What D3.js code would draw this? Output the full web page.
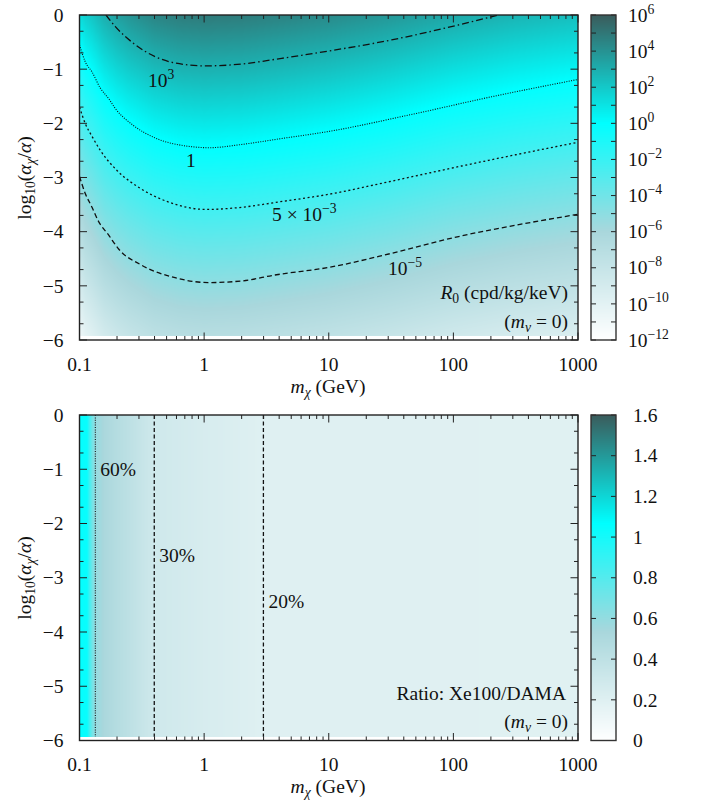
<!DOCTYPE html>
<html><head><meta charset="utf-8">
<script src="https://cdn.jsdelivr.net/npm/d3@7"></script>
<style>
body{margin:0;background:#fff}
svg{display:block}
text{font-family:"Liberation Serif","Times New Roman",serif;fill:#111}
</style></head>
<body><svg id="chart" width="705" height="800"></svg>
<script>
// ---------------- DATA ----------------
// mass nodes (GeV) of the R0 grid, and log10(alpha_chi/alpha) rows
const massNodes = [0.1,0.112,0.126,0.158,0.2,0.251,0.398,0.631,1,2,3.98,10,31.6,100,316,1000];
const alphaRows = [0,-1,-2,-3,-4,-5,-6];
// log10 R0 (cpd/kg/keV), one row per alphaRows entry, one column per massNodes entry
const logR0 = [
  [ 1.3, 1.8, 2.15, 2.96, 3.5, 3.9, 4.5, 4.78, 4.88, 4.8, 4.6, 4.3, 3.8, 3.2, 2.75, 2.4],
  [-1.0,-0.3, 0.1, 0.96, 1.5, 1.9, 2.5, 2.78, 2.88, 2.8, 2.6, 2.3, 1.8, 1.2, 0.75, 0.4],
  [-3.0,-2.3,-1.9,-1.04,-0.5,-0.1, 0.5, 0.78, 0.88, 0.8, 0.6, 0.3,-0.2,-0.8,-1.25,-1.6],
  [-5.0,-4.3,-3.9,-3.04,-2.5,-2.1,-1.5,-1.22,-1.12,-1.2,-1.4,-1.7,-2.2,-2.8,-3.25,-3.6],
  [-7.0,-6.3,-5.9,-5.04,-4.5,-4.1,-3.5,-3.22,-3.12,-3.2,-3.4,-3.7,-4.2,-4.8,-5.25,-5.6],
  [-9.0,-8.3,-7.9,-7.04,-6.5,-6.1,-5.5,-5.22,-5.12,-5.2,-5.4,-5.7,-6.2,-6.8,-7.25,-7.6],
  [-11.0,-10.3,-9.9,-9.04,-8.5,-8.1,-7.5,-7.22,-7.12,-7.2,-7.4,-7.7,-8.2,-8.8,-9.25,-9.6]
];
// contour lines of R0: [mass GeV, log10(alpha_chi/alpha)]
const contour1e3 = [[0.163,0],[0.194,-0.215],[0.271,-0.523],[0.405,-0.77],[0.585,-0.886],[1.02,-0.94],[2.0,-0.905],[4.19,-0.80],[10,-0.665],[31.9,-0.46],[109,-0.185],[229,0]];
const contour1 = [[0.1,-0.55],[0.111,-0.86],[0.126,-1.05],[0.147,-1.35],[0.171,-1.54],[0.193,-1.72],[0.271,-2.04],[0.405,-2.27],[0.724,-2.42],[1.1,-2.45],[2,-2.39],[4.19,-2.28],[10,-2.15],[43.4,-1.85],[202,-1.51],[1000,-1.19]];
const contour5e3 = [[0.1,-1.7],[0.111,-2.0],[0.126,-2.24],[0.147,-2.5],[0.2,-2.87],[0.307,-3.2],[0.5,-3.44],[1.05,-3.59],[2,-3.55],[4,-3.45],[10,-3.31],[31.6,-3.07],[100,-2.82],[316,-2.58],[1000,-2.35]];
const contour1e5 = [[0.1,-2.98],[0.111,-3.29],[0.126,-3.55],[0.142,-3.81],[0.171,-4.06],[0.206,-4.32],[0.316,-4.62],[0.585,-4.85],[1.08,-4.94],[2,-4.91],[3.7,-4.8],[10,-4.66],[31.9,-4.4],[110,-4.09],[374,-3.85],[1000,-3.68]];
// ratio Xe100/DAMA versus mass (independent of alpha)
const ratioMass = [0.1,0.115,0.121,0.127,0.134,0.16,0.2,0.25,0.32,0.4,1,3,1000];
const ratioValue = [1.05,1.04,0.85,0.7,0.6,0.52,0.46,0.41,0.35,0.3,0.25,0.2,0.19];
const ratioContourMass = [0.134,0.398,2.99];
const ratioContourLabel = ["60%","30%","20%"];
// ticks
const xTickValues = [0.1,1,10,100,1000];
const xTickLabels = ["0.1","1","10","100","1000"];
const yTickValues = [0,-1,-2,-3,-4,-5,-6];
const yTickLabels = ["0","\u22121","\u22122","\u22123","\u22124","\u22125","\u22126"];
const cbTopExp = [6,4,2,0,-2,-4,-6,-8,-10,-12];
const cbBotValues = [0,0.2,0.4,0.6,0.8,1,1.2,1.4,1.6];
const cbBotLabels = ["0","0.2","0.4","0.6","0.8","1","1.2","1.4","1.6"];

// ---------------- SETUP ----------------
const svg = d3.select("#chart");
const FS = 19.5;
const xs = d3.scaleLog().domain([0.1,1000]).range([79.5,578]);
const yTop = d3.scaleLinear().domain([-6,0]).range([340,15]);
const yBot = d3.scaleLinear().domain([-6,0]).range([740.5,415]);
const cbTop = d3.scaleLog().domain([1e-12,1e6]).range([340,15]);
const cbBot = d3.scaleLinear().domain([0,1.6]).range([740.5,415]);
const CBX0 = 591, CBX1 = 616;
const yDataMin = -5.93;

const palette = d3.scaleLinear().domain([0,1/3,2/3,1])
  .range(["#ffffff","#a9d7dc","#00ffff","#3a5c5c"]).clamp(true);
const LUT = d3.range(1024).map(i => d3.rgb(palette(i/1023)));

const logNodes = massNodes.map(Math.log10);
function locate(nodes, v){
  let i = d3.bisectRight(nodes, v) - 1;
  i = Math.max(0, Math.min(nodes.length-2, i));
  const t = (v - nodes[i])/(nodes[i+1]-nodes[i]);
  return [i, t];
}
function fieldTop(m, a){
  const [i, tx] = locate(logNodes, Math.log10(m));
  let r = -a; let j = Math.max(0, Math.min(alphaRows.length-2, Math.floor(r)));
  const ty = r - j;
  const A = logR0[j][i]*(1-tx) + logR0[j][i+1]*tx;
  const B = logR0[j+1][i]*(1-tx) + logR0[j+1][i+1]*tx;
  return A*(1-ty) + B*ty;
}
const ratioLog = ratioMass.map(Math.log10);
function fieldBot(m){
  const [i, t] = locate(ratioLog, Math.log10(m));
  return ratioValue[i]*(1-t) + ratioValue[i+1]*t;
}

function heat(x0, y0, w, h, fracAt){
  const cv = document.createElement("canvas"); cv.width = w; cv.height = h;
  const ctx = cv.getContext("2d"); const img = ctx.createImageData(w, h);
  for (let py=0; py<h; py++) for (let px=0; px<w; px++){
    let f = fracAt(x0+px+0.5, y0+py+0.5);
    f = Math.max(0, Math.min(1, f));
    const c = LUT[Math.round(f*1023)]; const k = (py*w+px)*4;
    img.data[k]=c.r; img.data[k+1]=c.g; img.data[k+2]=c.b; img.data[k+3]=255;
  }
  ctx.putImageData(img,0,0);
  svg.append("image").attr("x",x0).attr("y",y0).attr("width",w).attr("height",h)
    .attr("preserveAspectRatio","none").attr("href", cv.toDataURL());
}

function rich(parent, x, y, segs, anchor, size){
  const t = parent.append("text").attr("x",x).attr("y",y)
    .attr("text-anchor",anchor||"start").style("font-size",(size||FS)+"px");
  const s0 = size||FS; let cur = 0;
  segs.forEach(s => {
    const off = s.sup ? -0.42*s0 : (s.sub ? 0.22*s0 : 0);
    const ts = t.append("tspan").attr("dy", off-cur).text(s.t);
    if (s.i) ts.style("font-style","italic");
    if (s.sup || s.sub) ts.style("font-size",(0.7*s0)+"px");
    cur = off;
  });
  return t;
}

function frame(ys, xLabelBaseline, titleY, yTitleCenter){
  const [xl, xr] = xs.range(); const [yb, yt] = ys.range();
  const g = svg.append("g").attr("stroke","#222").attr("stroke-width",1);
  const xMinor = [];
  [0.1,1,10,100].forEach(d => { for (let k=2;k<=9;k++) xMinor.push(d*k); });
  xTickValues.forEach(v => { const x = xs(v);
    g.append("line").attr("x1",x).attr("x2",x).attr("y1",yb).attr("y2",yb-7.5);
    g.append("line").attr("x1",x).attr("x2",x).attr("y1",yt).attr("y2",yt+7.5); });
  xMinor.forEach(v => { const x = xs(v);
    g.append("line").attr("x1",x).attr("x2",x).attr("y1",yb).attr("y2",yb-4);
    g.append("line").attr("x1",x).attr("x2",x).attr("y1",yt).attr("y2",yt+4); });
  const yMinor = [];
  for (let n=0;n<6;n++){ yMinor.push(-n-0.3); yMinor.push(-n-0.7); }
  yTickValues.forEach(v => { const y = ys(v);
    g.append("line").attr("x1",xl).attr("x2",xl+7.5).attr("y1",y).attr("y2",y);
    g.append("line").attr("x1",xr).attr("x2",xr-7.5).attr("y1",y).attr("y2",y); });
  yMinor.forEach(v => { const y = ys(v);
    g.append("line").attr("x1",xl).attr("x2",xl+4).attr("y1",y).attr("y2",y);
    g.append("line").attr("x1",xr).attr("x2",xr-4).attr("y1",y).attr("y2",y); });
  svg.append("rect").attr("x",xl).attr("y",yt).attr("width",xr-xl).attr("height",yb-yt)
    .attr("fill","none").attr("stroke","#222").attr("stroke-width",1.4);
  xTickValues.forEach((v,i) => {
    svg.append("text").attr("x",xs(v)).attr("y",xLabelBaseline).attr("text-anchor","middle")
      .style("font-size",FS+"px").text(xTickLabels[i]); });
  yTickValues.forEach((v,i) => {
    svg.append("text").attr("x",63.5).attr("y",ys(v)+6.7).attr("text-anchor","end")
      .style("font-size",FS+"px").text(yTickLabels[i]); });
  rich(svg, 328, titleY, [{t:"m",i:1},{t:"\u03c7",i:1,sub:1},{t:" (GeV)"}], "middle");
  const yt2 = svg.append("g").attr("transform",`translate(31,${yTitleCenter}) rotate(-90)`);
  rich(yt2, 0, 0, [{t:"log"},{t:"10",sub:1},{t:"("},{t:"\u03b1",i:1},{t:"\u03c7",i:1,sub:1},{t:"/"},{t:"\u03b1",i:1},{t:")"}], "middle");
}

function colorbar(scale, ticks){
  const [yb, yt] = scale.range();
  const w = CBX1-CBX0, h = Math.round(yb-yt);
  const cv = document.createElement("canvas"); cv.width = 1; cv.height = h;
  const ctx = cv.getContext("2d");
  for (let py=0; py<h; py++){ const f = 1 - (py+0.5)/h; const c = LUT[Math.round(f*1023)];
    ctx.fillStyle = c.toString(); ctx.fillRect(0,py,1,1); }
  svg.append("image").attr("x",CBX0).attr("y",yt).attr("width",w).attr("height",yb-yt)
    .attr("preserveAspectRatio","none").attr("href",cv.toDataURL());
  const g = svg.append("g").attr("stroke","#222").attr("stroke-width",1);
  ticks.forEach(v => { const y = scale(v);
    g.append("line").attr("x1",CBX0).attr("x2",CBX0+5).attr("y1",y).attr("y2",y);
    g.append("line").attr("x1",CBX1).attr("x2",CBX1-5).attr("y1",y).attr("y2",y); });
  svg.append("rect").attr("x",CBX0).attr("y",yt).attr("width",w).attr("height",yb-yt)
    .attr("fill","none").attr("stroke","#333").attr("stroke-width",1.4);
}

// ---------------- TOP PANEL ----------------
const topX0 = 79, topW = 499;
heat(topX0, 15, topW, Math.round(yTop(yDataMin)-15), (px,py) => {
  const m = xs.invert(px), a = yTop.invert(py);
  return (fieldTop(m,a) + 12)/18;
});
svg.append("defs").html(
  '<clipPath id="cpTop"><rect x="79.5" y="15" width="498.5" height="325"/></clipPath>'+
  '<clipPath id="cpBot"><rect x="79.5" y="415" width="498.5" height="325.5"/></clipPath>');
const lineTop = d3.line().x(d=>xs(d[0])).y(d=>yTop(d[1])).curve(d3.curveMonotoneX);
const cTop = svg.append("g").attr("clip-path","url(#cpTop)").attr("fill","none")
  .attr("stroke","#111").attr("stroke-width",1.3);
cTop.append("path").attr("d",lineTop(contour1e3)).attr("stroke-dasharray","7,3,1.5,3");
cTop.append("path").attr("d",lineTop(contour1)).attr("stroke-dasharray","1,1.4").attr("stroke-width",1.1);
cTop.append("path").attr("d",lineTop(contour5e3)).attr("stroke-dasharray","2,2.6");
cTop.append("path").attr("d",lineTop(contour1e5)).attr("stroke-dasharray","5,3");

rich(svg, 148, 87, [{t:"10"},{t:"3",sup:1}], "start");
rich(svg, 186, 166.5, [{t:"1"}], "start");
rich(svg, 272, 221, [{t:"5 \u00d7 10"},{t:"\u22123",sup:1}], "start");
rich(svg, 388, 275, [{t:"10"},{t:"\u22125",sup:1}], "start");
rich(svg, 568, 299, [{t:"R",i:1},{t:"0",sub:1},{t:" (cpd/kg/keV)"}], "end");
rich(svg, 568, 328, [{t:"("},{t:"m",i:1},{t:"v",i:1,sub:1},{t:" = 0)"}], "end");
frame(yTop, 371, 393, 178);

const cbTopTicks = d3.range(-12,7).map(k => Math.pow(10,k));
colorbar(cbTop, cbTopTicks);
cbTopExp.forEach(k => {
  rich(svg, 628, cbTop(Math.pow(10,k))+6.7, [{t:"10"},{t:(k<0?"\u2212":"")+Math.abs(k),sup:1}], "start");
});

// ---------------- BOTTOM PANEL ----------------
heat(topX0, 415, topW, Math.round(yBot(yDataMin)-415), (px,py) => {
  const m = xs.invert(px);
  return fieldBot(m)/1.6;
});
const cBot = svg.append("g").attr("clip-path","url(#cpBot)").attr("fill","none")
  .attr("stroke","#111").attr("stroke-width",1.3);
ratioContourMass.forEach((m,i) => {
  cBot.append("line").attr("x1",xs(m)).attr("x2",xs(m)).attr("y1",yBot(0)).attr("y2",yBot(yDataMin))
    .attr("stroke-dasharray", i===0 ? "1,1.4" : "4,2.5").attr("stroke-width", i===0?1.1:1.3);
});
const ratioLabelY = [476, 562, 608];
ratioContourLabel.forEach((s,i) => {
  svg.append("text").attr("x",xs(ratioContourMass[i])+5).attr("y",ratioLabelY[i])
    .style("font-size",FS+"px").text(s);
});
rich(svg, 566, 700, [{t:"Ratio: Xe100/DAMA"}], "end");
rich(svg, 568, 728, [{t:"("},{t:"m",i:1},{t:"v",i:1,sub:1},{t:" = 0)"}], "end");
frame(yBot, 771, 793, 578);
colorbar(cbBot, cbBotValues);
cbBotValues.forEach((v,i) => {
  svg.append("text").attr("x",633).attr("y",cbBot(v)+6.7).style("font-size",FS+"px").text(cbBotLabels[i]);
});
</script></body></html>
